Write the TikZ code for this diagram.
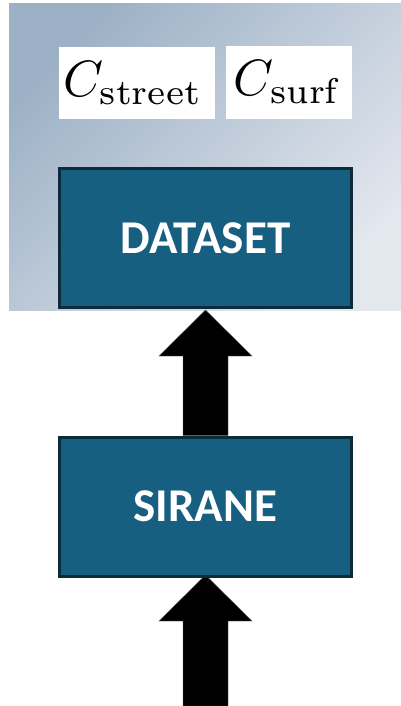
\documentclass[tikz,border=0pt]{standalone}
\usepackage{fontspec}
\usepackage{graphicx}
\newfontfamily\boxfont{Carlito}
\usetikzlibrary{calc}
\definecolor{boxfill}{HTML}{175F81}
\definecolor{boxedge}{HTML}{0C2B3B}
\definecolor{bgdark}{HTML}{9DB1C6}
\definecolor{bglight}{HTML}{E3E7EE}
\tikzset{
  stagebox/.style={draw=boxedge, line width=3pt, fill=boxfill,
    minimum width=292pt, minimum height=139pt, inner sep=0pt,
    text=white, font=\boxfont\bfseries\fontsize{47}{56}\selectfont},
  symbox/.style={fill=white, inner sep=0pt},
  flowarrow/.style={fill=black, draw=black!60, line width=0.4pt}
}
% thick block arrow: shaft from #1 up to the tip at #2 (same x)
\newcommand\blockarrow[2]{%
  \filldraw[flowarrow] ($(#1)+(-22.5,0)$) -- ($(#2)+(-22.5,46)$)
    -- ($(#2)+(-46.5,46)$) -- (#2) -- ($(#2)+(46.5,46)$)
    -- ($(#2)+(22.5,46)$) -- ($(#1)+(22.5,0)$) -- cycle;}
\newcommand\bigsym[1]{\scalebox{5.1}{$#1$}}
\begin{document}
\begin{tikzpicture}[x=1pt,y=-1pt]
\useasboundingbox (0,0) rectangle (401,706);
% shaded panel behind the upper part
\shade[top color=bgdark, bottom color=bglight, shading angle=45]
  (9,4) rectangle (401,310);

% concentration symbols on white cards
\node[symbox, minimum width=156pt, minimum height=72pt] (cst) at (137,83) {};
\node (cstsym) at ([xshift=-4pt]cst) {\bigsym{C_{\mathrm{street}}}};
\node[symbox, minimum width=126pt, minimum height=73pt] (csf) at (289,82.5) {};
\node (csfsym) at ([xshift=-2pt]csf) {\bigsym{C_{\mathrm{surf}}}};

\coordinate (feed) at (205.5,706);
\coordinate (dtip) at (205.5,310);
\coordinate (stip) at (205.5,575);

% boxes are drawn over the arrow shafts
\node[stagebox] (sirane) at (205.5,506.5) {};
\blockarrow{feed}{stip}
\blockarrow{sirane.north}{dtip}
\node[stagebox] (dataset) at (205.5,238) {DATASET};
\node[stagebox] (sirlabel) at (sirane) {SIRANE};
\end{tikzpicture}
\end{document}
